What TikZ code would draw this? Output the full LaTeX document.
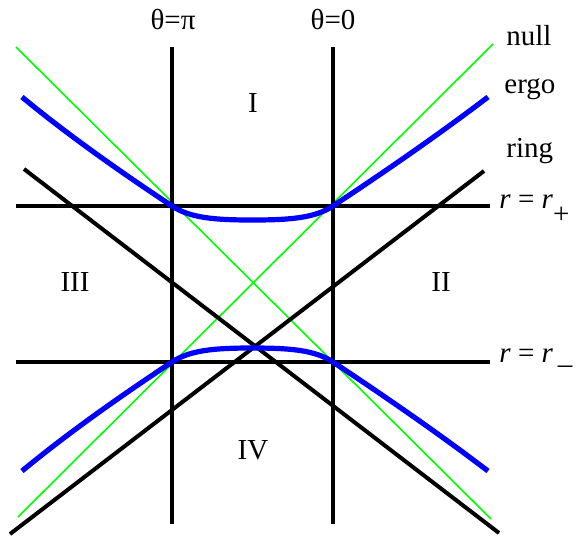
\documentclass[tikz,border=0pt]{standalone}
\usepackage{fontspec}
\setmainfont{Liberation Serif}

\begin{document}
\begin{tikzpicture}[x=0.5pt,y=-0.5pt,
  linea/.style={line width=2pt},
  nula/.style={green,line width=0.8pt},
  ergosfera/.style={blue,line width=2.6pt},
  etiq/.style={font=\fontsize{14.5}{17}\selectfont,inner sep=0pt}]
  \useasboundingbox (0,0) rectangle (576,537);

  % Rayos nulos (verde)
  \coordinate (nA) at (16,47);  \coordinate (nB) at (491,519);
  \coordinate (nC) at (493,44); \coordinate (nD) at (18,517);
  \draw[nula] (nA) -- (nB);
  \draw[nula] (nC) -- (nD);

  % Ejes theta = pi y theta = 0
  \coordinate (piA) at (172,47);   \coordinate (piB) at (172,524);
  \coordinate (ceroA) at (333,47); \coordinate (ceroB) at (333,524);
  \draw[linea] (piA) -- (piB);
  \draw[linea] (ceroA) -- (ceroB);

  % Horizontes r = r+ y r = r-
  \coordinate (masA) at (16,206);   \coordinate (masB) at (490,206);
  \coordinate (menosA) at (16,362); \coordinate (menosB) at (490,362);
  \draw[linea] (masA) -- (masB);
  \draw[linea] (menosA) -- (menosB);

  % Singularidad de anillo
  \coordinate (aA) at (24,169);  \coordinate (aB) at (499,533);
  \coordinate (aC) at (484,171); \coordinate (aD) at (10,534);
  \draw[linea] (aA) -- (aB);
  \draw[linea] (aC) -- (aD);

  % Ergosfera (azul)
  \draw[ergosfera] (22,97) .. controls (80,145) and (145,188) .. (172,206)
    .. controls (190,218) and (215,220) .. (252,220)
    .. controls (290,220) and (315,218) .. (333,206)
    .. controls (360,188) and (425,145) .. (488,97);
  \draw[ergosfera] (22,471) .. controls (80,423) and (145,380) .. (172,362)
    .. controls (190,350) and (215,348) .. (252,348)
    .. controls (290,348) and (315,350) .. (333,362)
    .. controls (360,380) and (425,423) .. (488,471);

  % Etiquetas
  \node[etiq] (tpi) at (173,19) {θ=π};
  \node[etiq] (tcero) at (333,19) {θ=0};
  \node[etiq,anchor=base west] (tnull) at (506,45) {null};
  \node[etiq,anchor=base west] (tergo) at (504,93) {ergo};
  \node[etiq,anchor=base west] (tring) at (506,157) {ring};
  \node[etiq,anchor=base west] (tmas) at (499,208)
    {\textit{r} = \textit{r}\raisebox{-0.55em}{+}};
  \node[etiq,anchor=base west] (tmenos) at (499,362)
    {\textit{r} = \textit{r}\,\raisebox{-0.4em}{--}};
  \node[etiq] (rI) at (253,103) {I};
  \node[etiq] (rII) at (441,282) {II};
  \node[etiq] (rIII) at (75,282) {III};
  \node[etiq] (rIV) at (253,450) {IV};
\end{tikzpicture}
\end{document}
